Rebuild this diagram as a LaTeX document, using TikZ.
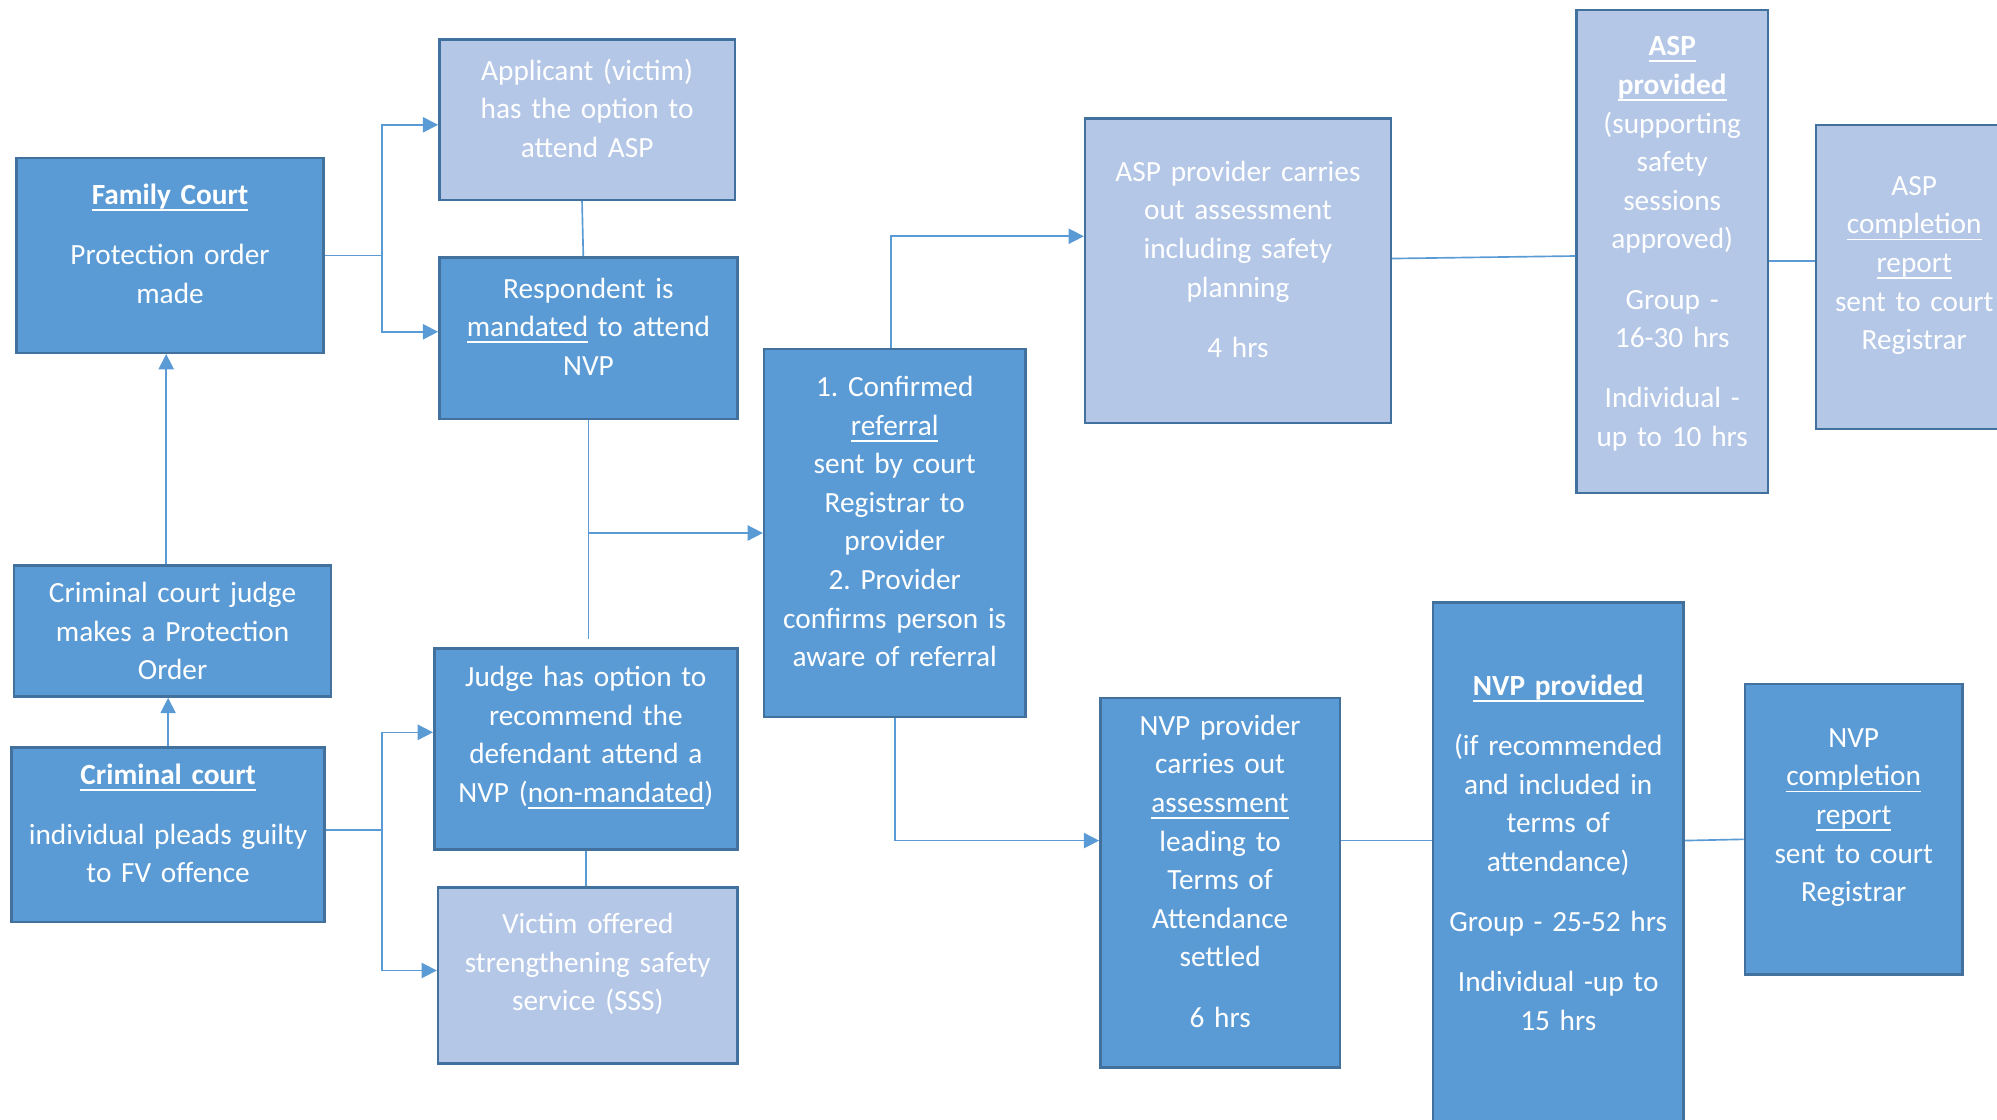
\documentclass[tikz,border=0pt]{standalone}
\usepackage{fontspec}
\setmainfont{Carlito}
\usetikzlibrary{arrows.meta}
\definecolor{darkfill}{HTML}{5B9BD5}
\definecolor{lightfill}{HTML}{B4C7E7}
\definecolor{boxline}{HTML}{41719C}
\definecolor{linkline}{HTML}{5B9BD5}
\newcommand{\uline}[1]{\leavevmode\setbox0\hbox{#1}\rlap{\rule[-5pt]{\wd0}{1.4pt}}\box0\relax}
\frenchspacing
\begin{document}
\begin{tikzpicture}[x=1pt,y=-1pt,
    cell/.style={draw=boxline,line width=2pt,text=white,align=center,inner sep=0pt,
      font=\fontsize{23}{30.3}\selectfont},
    lift/.style={execute at end node={\endgraf\kern18pt}},
    darkbox/.style={cell,lift,fill=darkfill},
    lightbox/.style={cell,lift,fill=lightfill},
    wh/.style 2 args={minimum width=#1,minimum height=#2,text width=#1-8},
    link/.style={draw=linkline,line width=1.3pt},
    linkarrow/.style={link,-{Triangle[length=12pt,width=12pt]}}]
    \useasboundingbox (0,0) rectangle (1568,879);
    \clip (0,0) rectangle (1568,879);
    %% courts
    \node[darkbox,wh={241}{153}] (fam) at (133.5,200.5)
        {\textbf{\uline{Family Court}}\\[17pt]Protection order\\made};
    \node[cell,fill=darkfill,wh={249}{103}] (cjudge) at (135.5,495.5)
        {Criminal court judge\\makes a Protection\\Order};
    \node[darkbox,wh={246}{137}] (crim) at (132,655.5)
        {\textbf{\uline{Criminal court}}\\[17pt]individual pleads guilty\\to FV offence};
    %% orders
    \node[lightbox,wh={232}{126}] (app) at (461,94)
        {Applicant (victim)\\has the option to\\attend ASP};
    \node[darkbox,wh={234}{127}] (resp) at (462,265.5)
        {Respondent is\\\uline{mandated} to attend\\NVP};
    \node[darkbox,wh={238}{158}] (jopt) at (460,588)
        {Judge has option to\\recommend the\\defendant attend a\\NVP (\uline{non-mandated})};
    \node[lightbox,wh={235}{138}] (sss) at (461.5,766)
        {Victim offered\\strengthening safety\\service (SSS)};
    \node[darkbox,wh={205}{289}] (ref) at (702.5,418.5)
        {1. Confirmed\\\uline{referral}\\sent by court\\Registrar to\\provider\\2. Provider\\confirms person is\\aware of referral};
    %% ASP
    \node[lightbox,wh={240}{239}] (aspa) at (972,212.5)
        {ASP provider carries\\out assessment\\including safety\\planning\\[17pt]4 hrs};
    \node[lightbox,wh={150}{379},execute at end node={\kern-6pt}] (aspp) at (1313,197.5)
        {\textbf{\uline{ASP}}\\\textbf{\uline{provided}}\\(supporting\\safety\\sessions\\approved)\\[17pt]Group -\\16-30 hrs\\[17pt]Individual -\\up to 10 hrs};
    \node[lightbox,wh={154}{239}] (aspc) at (1503,217.5)
        {ASP\\\uline{completion}\\\uline{report}\\sent to court\\Registrar};
    %% NVP
    \node[darkbox,wh={188}{290}] (nvpa) at (958,693)
        {NVP provider\\carries out\\\uline{assessment}\\leading to\\Terms of\\Attendance\\settled\\[17pt]6 hrs};
    \node[darkbox,wh={197}{411}] (nvpp) at (1223.5,678.5)
        {\textbf{\uline{NVP provided}}\\[17pt](if recommended\\and included in\\terms of\\attendance)\\[17pt]Group - 25-52 hrs\\[17pt]Individual -up to\\15 hrs};
    \node[darkbox,wh={171}{228}] (nvpc) at (1455.5,651)
        {NVP\\\uline{completion}\\\uline{report}\\sent to court\\Registrar};
    %% left side
    \coordinate (up) at ([xshift=-5pt]cjudge.north);
    \draw[linkarrow] (up) -- (up |- fam.south);
    \draw[linkarrow] (crim.north) -- (crim.north |- cjudge.south);
    \draw[link] (fam.east) -- ++(45,0) coordinate (fj);
    \draw[linkarrow] (fj) |- ([yshift=-4pt]app.west);
    \draw[linkarrow] (fj) |- ([yshift=5pt]resp.west);
    \draw[link] ([yshift=4pt]crim.east) -- ++(44,0) coordinate (cj);
    \draw[linkarrow] (cj) |- ([yshift=13pt]jopt.west);
    \draw[linkarrow] (cj) |- ([yshift=4pt]sss.west);
    \draw[link] ([xshift=-4pt]app.south) -- ([xshift=-4pt]resp.north);
    \draw[link] (jopt.south) -- (jopt.south |- sss.north);
    %% referral
    \draw[link,shorten >=6pt] (resp.south) -- (resp.south |- jopt.north);
    \draw[linkarrow] (resp.south |- ref.west) -- (ref.west);
    \draw[linkarrow] ([xshift=-3pt]ref.north) |- ([yshift=27pt]aspa.west);
    \draw[linkarrow] (ref.south) |- ([yshift=33pt]nvpa.west);
    %% right side
    \draw[link] ([yshift=9.5pt]aspa.east) -- ([yshift=-3.5pt]aspp.west);
    \draw[link] ([yshift=-7.5pt]aspp.east) -- ([yshift=12.5pt]aspc.west);
    \draw[link] ([yshift=33pt]nvpa.east) -- ([yshift=18.5pt]nvpp.west);
    \draw[link] ([yshift=18.5pt]nvpp.east) -- ([yshift=-8pt]nvpc.west);
\end{tikzpicture}
\end{document}
